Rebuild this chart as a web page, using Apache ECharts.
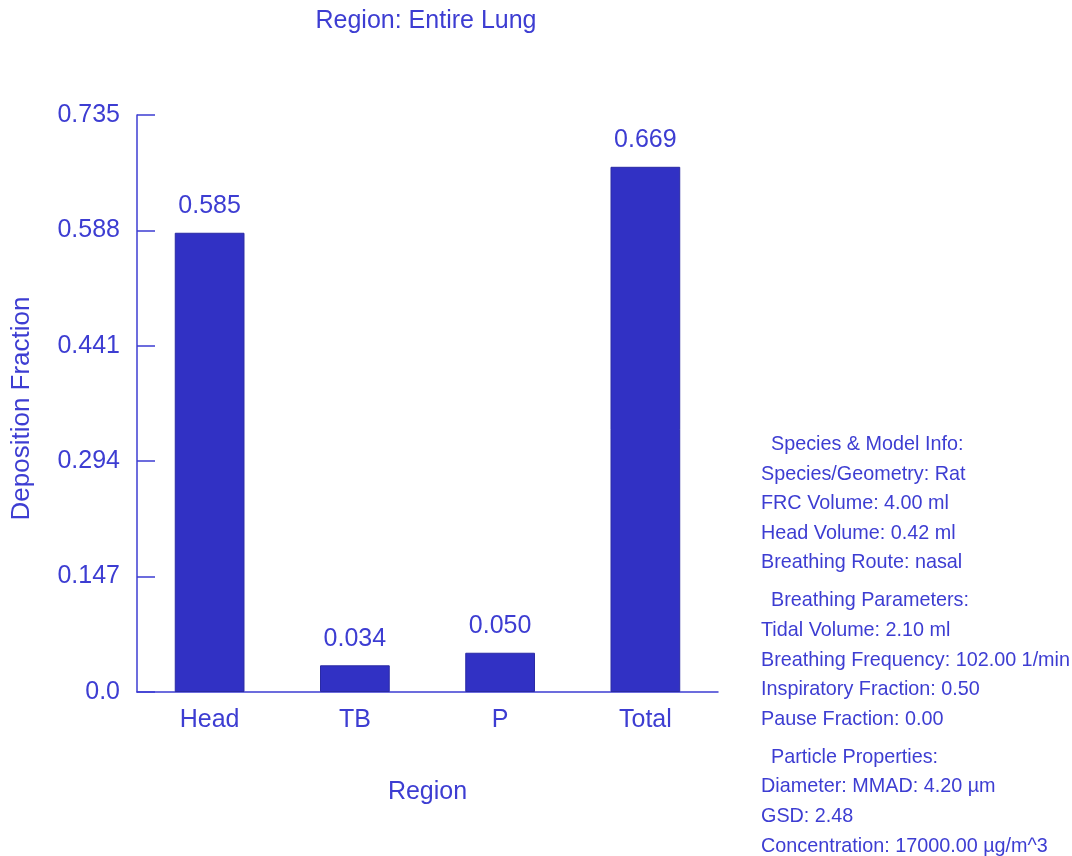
<!DOCTYPE html>
<html>
<head>
<meta charset="utf-8">
<script src="https://cdn.jsdelivr.net/npm/echarts@6/dist/echarts.min.js"></script>
<style>
html,body{margin:0;padding:0;background:#fff;}
#c{width:1072px;height:856px;}
</style>
</head>
<body>
<div id="c"></div>
<script>
var categories = ['Head', 'TB', 'P', 'Total'];
var depositionValues = [0.585, 0.034, 0.050, 0.669];
var yTickLabels = ['0.0', '0.147', '0.294', '0.441', '0.588', '0.735'];
var infoLines = [
  { text: 'Species & Model Info:', header: true },
  { text: 'Species/Geometry: Rat' },
  { text: 'FRC Volume: 4.00 ml' },
  { text: 'Head Volume: 0.42 ml' },
  { text: 'Breathing Route: nasal' },
  { text: 'Breathing Parameters:', header: true },
  { text: 'Tidal Volume: 2.10 ml' },
  { text: 'Breathing Frequency: 102.00 1/min' },
  { text: 'Inspiratory Fraction: 0.50' },
  { text: 'Pause Fraction: 0.00' },
  { text: 'Particle Properties:', header: true },
  { text: 'Diameter: MMAD: 4.20 µm' },
  { text: 'GSD: 2.48' },
  { text: 'Concentration: 17000.00 µg/m^3' }
];

var txtColor = '#3d3dd2';
var barColor = '#3131c4';
var font = 'Liberation Sans';

var chart = echarts.init(document.getElementById('c'), null, { renderer: 'canvas' });

var graphics = [];
var y = 444.5;
infoLines.forEach(function (l, i) {
  if (i > 0) y += (l.header ? 38 : 29.6);
  graphics.push({
    type: 'text',
    x: l.header ? 771 : 761,
    y: y,
    style: { text: l.text, fill: txtColor, font: '19.8px "' + font + '"', verticalAlign: 'middle', align: 'left' }
  });
});

chart.setOption({
  animation: false,
  backgroundColor: '#ffffff',
  title: {
    text: 'Region: Entire Lung',
    left: 421, textAlign: 'center', top: 4,
    textStyle: { color: txtColor, fontFamily: font, fontSize: 25, fontWeight: 'normal' }
  },
  grid: { left: 137, right: 354, top: 115, bottom: 164, containLabel: false, outerBoundsMode: 'none' },
  xAxis: {
    type: 'category',
    data: categories,
    name: 'Region',
    nameLocation: 'middle',
    nameGap: 88,
    nameTextStyle: { color: txtColor, fontFamily: font, fontSize: 25 },
    axisLine: { lineStyle: { color: txtColor, width: 1.5 } },
    axisTick: { show: false },
    axisLabel: { color: txtColor, fontFamily: font, fontSize: 25, margin: 16 }
  },
  yAxis: {
    type: 'value',
    min: 0, max: 0.735, interval: 0.147,
    name: 'Deposition Fraction',
    nameLocation: 'middle',
    nameGap: 102,
    nameTextStyle: { color: txtColor, fontFamily: font, fontSize: 26, padding: [0, 10, 0, 0] },
    splitLine: { show: false },
    axisLine: { show: true, lineStyle: { color: txtColor, width: 1.5 } },
    axisTick: { show: true, inside: true, length: 18, lineStyle: { color: txtColor, width: 1.5 } },
    axisLabel: {
      color: txtColor, fontFamily: font, fontSize: 25, margin: 17,
      formatter: function (v) {
        var idx = Math.round(v / 0.147);
        return yTickLabels[idx] !== undefined ? yTickLabels[idx] : '';
      }
    }
  },
  series: [{
    type: 'bar',
    data: depositionValues,
    barWidth: '48%',
    itemStyle: { color: barColor, borderColor: '#2a2aa4', borderWidth: 1 },
    label: {
      show: true, position: 'top', distance: 14,
      color: txtColor, fontFamily: font, fontSize: 25,
      formatter: function (p) { return p.value.toFixed(3); }
    }
  }],
  graphic: graphics
});
</script>
</body>
</html>
